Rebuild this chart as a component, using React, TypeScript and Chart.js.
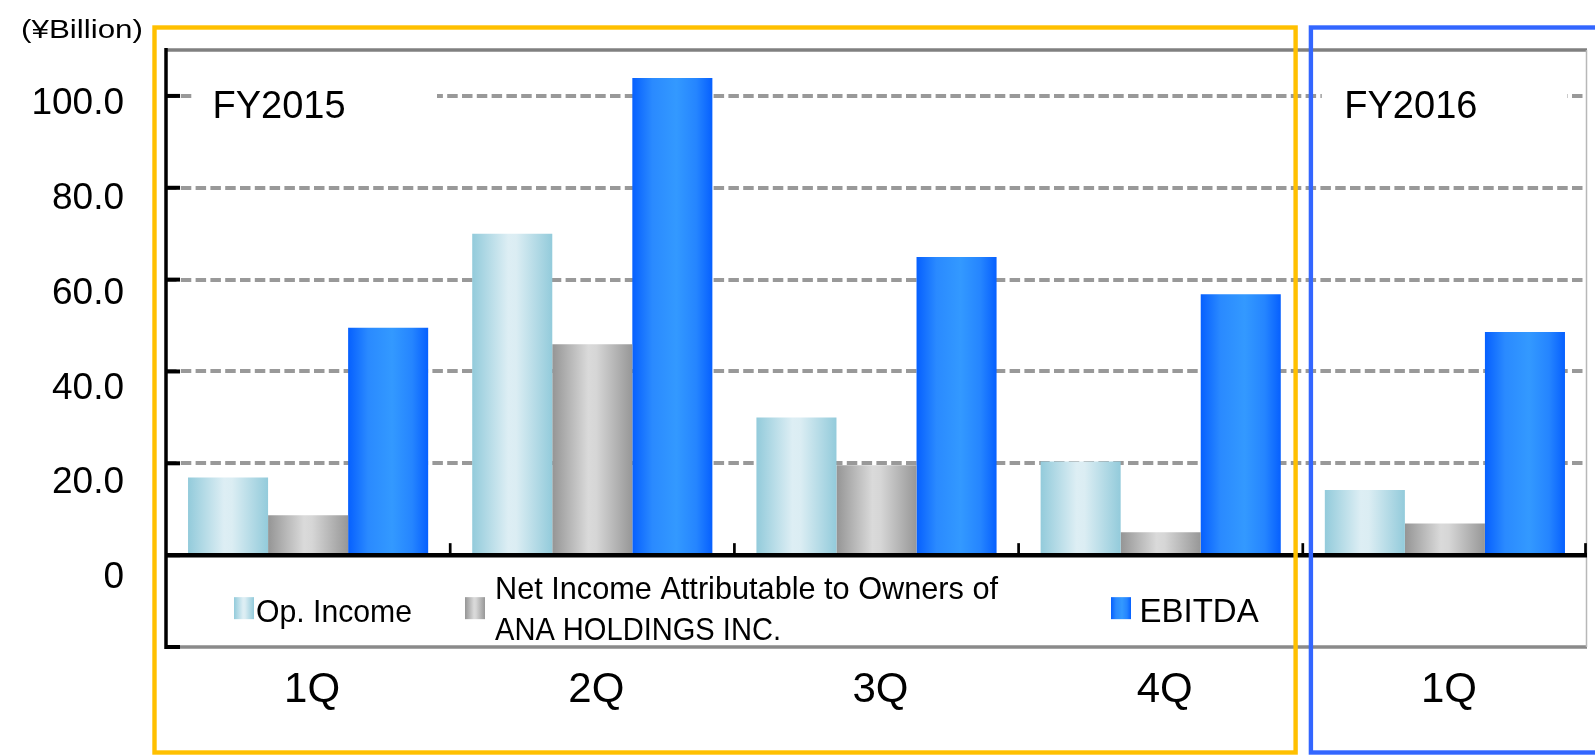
import React, { useEffect, useRef } from "react";
import { Chart, registerables } from "chart.js";

Chart.register(...registerables);

// ---------------- data ----------------
const categories = ["1Q", "2Q", "3Q", "4Q", "1Q"];
const fiscalYears = ["FY2015", "FY2016"];
const opIncome = [16.9, 70.0, 30.0, 20.4, 14.2];
const netIncome = [8.7, 45.9, 19.6, 5.0, 6.9];
const ebitda = [49.5, 103.9, 64.9, 56.8, 48.6];
const seriesLabels = [
  "Op. Income",
  "Net Income Attributable to Owners of\nANA HOLDINGS INC.",
  "EBITDA",
];
const yTickLabels = ["0", "20.0", "40.0", "60.0", "80.0", "100.0"];
const yUnit = "(¥Billion)";

// ---------------- styles ----------------
const FONT = '"Liberation Sans", Arial, Helvetica, sans-serif';
const CAT_PCT = 0.845;
const opStops: [number, string][] = [
  [0, "#93CBDB"],
  [0.45, "#DDEEF4"],
  [0.55, "#DBEDF3"],
  [1, "#93CBDB"],
];
const netStops: [number, string][] = [
  [0, "#959595"],
  [0.45, "#DADADA"],
  [0.55, "#D6D6D6"],
  [1, "#979797"],
];
const ebitdaStops: [number, string][] = [
  [0, "#0660FF"],
  [0.25, "#2A8AFF"],
  [0.55, "#3399FF"],
  [0.8, "#2585FF"],
  [1, "#0660FF"],
];
const allStops = [opStops, netStops, ebitdaStops];

const makeBarFill = (stops: [number, string][]) => (c: any) => {
  const chart = c.chart;
  const area = chart.chartArea;
  const xs = chart.scales && chart.scales.x;
  if (!area || !xs || c.type !== "data") return stops[1][1];
  const n = chart.data.labels.length;
  const cw = (area.right - area.left) / n;
  const gw = cw * CAT_PCT;
  const nd = chart.data.datasets.length;
  const bw = gw / nd;
  const cx = xs.getPixelForValue(c.dataIndex);
  const left = cx - gw / 2 + c.datasetIndex * bw;
  const g = chart.ctx.createLinearGradient(left, 0, left + bw, 0);
  stops.forEach(([o, col]) => g.addColorStop(o, col));
  return g;
};

function drawText(
  ctx: CanvasRenderingContext2D,
  text: string,
  x: number,
  y: number,
  font: string,
  width?: number
) {
  ctx.font = font;
  ctx.textAlign = "left";
  ctx.textBaseline = "alphabetic";
  if (width) {
    const w = ctx.measureText(text).width;
    ctx.save();
    ctx.translate(x, y);
    ctx.scale(width / w, 1);
    ctx.fillText(text, 0, 0);
    ctx.restore();
  } else {
    ctx.fillText(text, x, y);
  }
}

const decorPlugin = {
  id: "decor",
  beforeDatasetsDraw(chart: any) {
    const { ctx, chartArea: a, scales } = chart;
    const y = scales.y;
    const n = chart.data.labels.length;
    const cw = (a.right - a.left) / n;
    const y100 = y.getPixelForValue(100);
    ctx.save();
    ctx.fillStyle = "#ffffff";
    ctx.fillRect(a.left + 26, y100 - 16, 245, 32);
    const b4 = a.left + 4 * cw;
    ctx.fillRect(b4 + 19, y100 - 16, 245.5, 32);
    ctx.restore();
  },
  afterDatasetsDraw(chart: any) {
    const { ctx, chartArea: a, scales } = chart;
    const y = scales.y;
    const n = chart.data.labels.length;
    const cw = (a.right - a.left) / n;
    const zeroY = y.getPixelForValue(0);
    const botY = y.getPixelForValue(-20);
    const b4 = a.left + 4 * cw;

    ctx.save();
    ctx.lineCap = "butt";
    // top border
    ctx.strokeStyle = "#808080";
    ctx.lineWidth = 3.5;
    ctx.beginPath();
    ctx.moveTo(a.left, a.top);
    ctx.lineTo(a.right, a.top);
    ctx.stroke();
    // bottom border
    ctx.strokeStyle = "#8a8a8a";
    ctx.beginPath();
    ctx.moveTo(a.left, botY);
    ctx.lineTo(a.right, botY);
    ctx.stroke();
    // right border
    ctx.strokeStyle = "#b8b8b8";
    ctx.lineWidth = 1.5;
    ctx.beginPath();
    ctx.moveTo(a.right - 0.5, a.top);
    ctx.lineTo(a.right - 0.5, botY);
    ctx.stroke();
    // zero line
    ctx.strokeStyle = "#000";
    ctx.lineWidth = 4.5;
    ctx.beginPath();
    ctx.moveTo(a.left, zeroY);
    ctx.lineTo(a.right, zeroY);
    ctx.stroke();
    // left axis
    ctx.lineWidth = 3.5;
    ctx.beginPath();
    ctx.moveTo(a.left, a.top - 2);
    ctx.lineTo(a.left, botY + 2);
    ctx.stroke();
    // inner tick marks on left axis
    ctx.lineWidth = 4;
    y.ticks.forEach((t: any) => {
      const v = t.value;
      if (v < -20.001 || v > 100.001 || Math.abs(v / 20 - Math.round(v / 20)) > 1e-6) return;
      const py = y.getPixelForValue(v);
      ctx.beginPath();
      ctx.moveTo(a.left, py);
      ctx.lineTo(a.left + 14, py);
      ctx.stroke();
    });
    // category boundary ticks on zero line
    ctx.lineWidth = 2.7;
    for (let i = 1; i <= n; i++) {
      const bx = a.left + i * cw - (i === n ? 1.5 : 0);
      ctx.beginPath();
      ctx.moveTo(bx, zeroY - 12);
      ctx.lineTo(bx, zeroY);
      ctx.stroke();
    }

    // legend
    const legendX = [
      { sw: a.left + 68, tx: a.left + 90, widths: [156], font: 32 },
      { sw: a.left + 299, tx: a.left + 329, widths: [503, 286], font: 32 },
      { sw: a.left + 945, tx: a.left + 973.5, widths: [0], font: 33 },
    ];
    chart.data.datasets.forEach((ds: any, i: number) => {
      const L = legendX[i];
      const sTop = zeroY + 42;
      const g = ctx.createLinearGradient(L.sw, 0, L.sw + 20, 0);
      allStops[i].forEach(([o, col]) => g.addColorStop(o, col));
      ctx.fillStyle = g;
      ctx.fillRect(L.sw, sTop, 20, 22);
      ctx.fillStyle = "#000";
      const lines = String(ds.label).split("\n");
      if (lines.length === 1) {
        drawText(ctx, lines[0], L.tx, zeroY + 67, `${L.font}px ${FONT}`, L.widths[0] || undefined);
      } else {
        lines.forEach((ln: string, k: number) => {
          drawText(ctx, ln, L.tx, zeroY + 43.5 + k * 41.5, `${L.font}px ${FONT}`, L.widths[k]);
        });
      }
    });

    // fiscal year labels
    const y100 = y.getPixelForValue(100);
    ctx.fillStyle = "#000";
    drawText(ctx, fiscalYears[0], a.left + 46.5, y100 + 22.5, `38px ${FONT}`);
    drawText(ctx, fiscalYears[1], b4 + 41.5, y100 + 22.5, `38px ${FONT}`);

    // unit label
    drawText(ctx, yUnit, 21, 38, `25px ${FONT}`, 122);

    // frames
    ctx.lineWidth = 4.4;
    ctx.strokeStyle = "#FFC000";
    ctx.strokeRect(a.left - 11.5, a.top - 22.5, b4 - 7.2 - (a.left - 11.5), chart.height - 2.5 - (a.top - 22.5));
    ctx.strokeStyle = "#3366FF";
    ctx.strokeRect(b4 + 8.1, a.top - 22.5, chart.width + 20 - (b4 + 8.1), chart.height - 2.5 - (a.top - 22.5));
    ctx.restore();
  },
};

export default function App() {
  const ref = useRef<HTMLCanvasElement | null>(null);

  useEffect(() => {
    document.body.style.margin = "0";
    const canvas = ref.current;
    if (!canvas) return;
    Chart.defaults.font.family = FONT;
    const chart = new Chart(canvas, {
      type: "bar",
      data: {
        labels: categories,
        datasets: [
          { label: seriesLabels[0], data: opIncome, backgroundColor: makeBarFill(opStops), borderWidth: 0, yAxisID: "y" },
          { label: seriesLabels[1], data: netIncome, backgroundColor: makeBarFill(netStops), borderWidth: 0, yAxisID: "y" },
          { label: seriesLabels[2], data: ebitda, backgroundColor: makeBarFill(ebitdaStops), borderWidth: 0, yAxisID: "y" },
        ],
      },
      options: {
        responsive: false,
        animation: false,
        events: [],
        devicePixelRatio: 1,
        layout: { padding: { top: 50, right: 8, left: 0, bottom: 0 } },
        datasets: { bar: { categoryPercentage: CAT_PCT, barPercentage: 1 } },
        plugins: { legend: { display: false }, tooltip: { enabled: false }, title: { display: false } },
        scales: {
          x: {
            type: "category",
            position: "bottom",
            grid: { display: false, drawTicks: false },
            border: { display: false },
            ticks: { color: "#000", font: { size: 42 }, padding: 18, labelOffset: 4, maxRotation: 0, autoSkip: false },
            afterFit: (s: any) => { s.height = 108; },
          },
          y: {
            type: "linear",
            position: "left",
            weight: 0,
            min: -20,
            max: 110,
            ticks: { display: false, stepSize: 20 },
            grid: {
              drawTicks: false,
              lineWidth: 4,
              color: (c: any) => {
                const v = c.tick ? c.tick.value : 0;
                return v > 0 && v <= 100.001 && Math.abs(v / 20 - Math.round(v / 20)) < 1e-6 ? "#999999" : "rgba(0,0,0,0)";
              },
            },
            border: { display: false, dash: [10.5, 4.3], dashOffset: 0 },
            afterFit: (s: any) => { s.width = 41; },
          },
          yl: {
            type: "linear",
            position: "left",
            weight: 10,
            min: -14.6,
            max: 111.4,
            grid: { display: false, drawTicks: false },
            border: { display: false },
            ticks: {
              stepSize: 20,
              autoSkip: false,
              color: "#000",
              font: { size: 37 },
              padding: 1,
              callback: (v: any) => {
                const k = Number(v) / 20;
                const r = Math.round(k);
                if (Math.abs(k - r) > 1e-6 || r < 0 || r >= yTickLabels.length) return null;
                return yTickLabels[r];
              },
            },
            afterFit: (s: any) => { s.width = 125; },
          },
        },
      },
      plugins: [decorPlugin],
    } as any);
    return () => chart.destroy();
  }, []);

  return (
    <div style={{ width: 1595, height: 755, position: "relative", background: "#fff" }}>
      <canvas ref={ref} width={1595} height={755} style={{ display: "block", width: 1595, height: 755 }} />
    </div>
  );
}
